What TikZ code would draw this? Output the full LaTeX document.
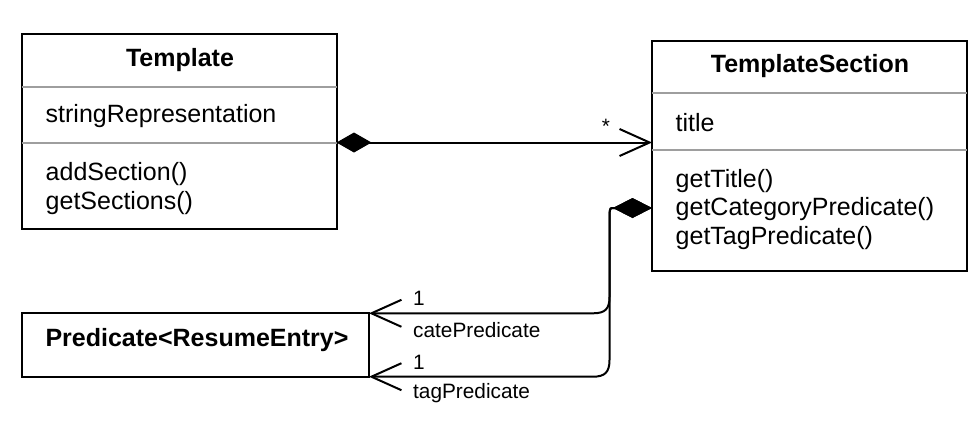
\documentclass[tikz,border=0pt]{standalone}
\usepackage{fontspec}
\setmainfont{Liberation Sans}
\usetikzlibrary{arrows.meta}
\begin{document}
\begin{tikzpicture}[x=1pt,y=-1pt,
  box/.style={draw=black, line width=2pt, inner sep=0pt, outer sep=0pt},
  div/.style={draw=black!38, line width=2pt},
  big/.style={font=\fontsize{25}{29}\selectfont, inner sep=0pt},
  bigb/.style={font=\fontsize{25}{29}\selectfont\bfseries, inner sep=0pt},
  small/.style={font=\fontsize{20.8}{24}\selectfont, inner sep=0pt},
  conn/.style={draw=black, line width=2pt},
  opentip/.tip={Straight Barb[length=30pt,width=27pt]}
]
\useasboundingbox (0,0) rectangle (979,432);

% Template
\node[box, minimum width=315pt, minimum height=195.5pt] (tpl) at (179,131.25) {};
\draw[div] ([yshift=-53.2pt]tpl.north west) -- ([yshift=-53.2pt]tpl.north east);
\draw[div] ([yshift=-109.8pt]tpl.north west) -- ([yshift=-109.8pt]tpl.north east);
\node[bigb] (tplT) at (180,60.5) {Template};
\node[big, anchor=west] (tplA) at (45.5,116.5) {stringRepresentation};
\node[big, anchor=west] (tplM1) at (45.5,174.5) {addSection()};
\node[big, anchor=west] (tplM2) at (45.5,203.5) {getSections()};

% TemplateSection
\node[box, minimum width=314.5pt, minimum height=230pt] (ts) at (809.25,155.7) {};
\draw[div] ([yshift=-52.6pt]ts.north west) -- ([yshift=-52.6pt]ts.north east);
\draw[div] ([yshift=-109.3pt]ts.north west) -- ([yshift=-109.3pt]ts.north east);
\node[bigb] (tsT) at (810,66.5) {TemplateSection};
\node[big, anchor=west] (tsA) at (675.5,123) {title};
\node[big, anchor=west] (tsM1) at (675.5,181.5) {getTitle()};
\node[big, anchor=west] (tsM2) at (675.5,209.5) {getCategoryPredicate()};
\node[big, anchor=west] (tsM3) at (675.5,238.5) {getTagPredicate()};

% Predicate
\node[box, minimum width=347.5pt, minimum height=63.4pt] (pred) at (195.25,345) {};
\node[bigb] (predT) at (197,340.5) {Predicate<ResumeEntry>};

% connectors
\draw[conn, {Diamond[length=35pt,width=20pt]}-{opentip}] (tpl.east |- 0,142.5) -- (ts.west |- 0,142.5);
\coordinate (tsd) at (ts.west |- 0,208);
\coordinate (k1) at (612,208);
\draw[conn, {Diamond[length=39pt,width=20pt]}-{opentip}] (tsd) -- (k1)
  .. controls (609.5,208) and (609.5,211) .. (609.5,220) -- (609.5,297)
  .. controls (609.5,309) and (605,313.3) .. (593,313.3) -- (pred.north east);
\draw[conn, {Diamond[length=39pt,width=20pt]}-{opentip}] (tsd) -- (k1)
  .. controls (609.5,208) and (609.5,211) .. (609.5,220) -- (609.5,360)
  .. controls (609.5,372) and (605,376.7) .. (593,376.7) -- (pred.south east);

% labels
\node[small] (star) at (606,126.5) {*};
\node[small, anchor=west] (m1) at (413,298) {1};
\node[small, anchor=west] (r1) at (413,330.5) {catePredicate};
\node[small, anchor=west] (m2) at (413,362) {1};
\node[small, anchor=west] (r2) at (413,393.5) {tagPredicate};
\end{tikzpicture}
\end{document}
